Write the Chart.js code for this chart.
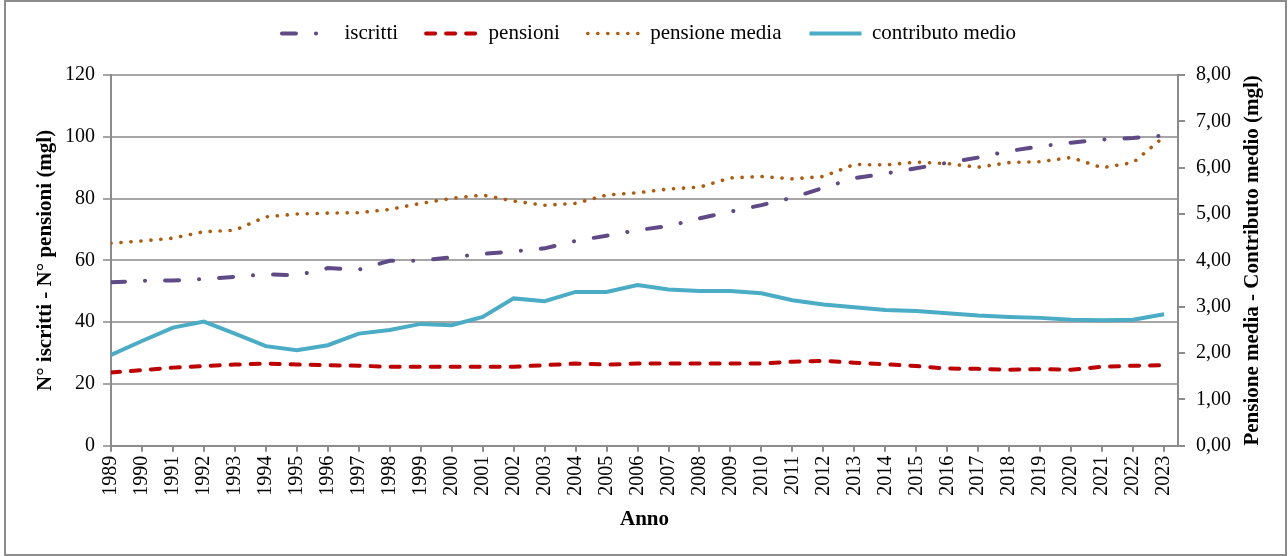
<!DOCTYPE html>
<html>
<head>
<meta charset="utf-8">
<script src="https://cdn.jsdelivr.net/npm/chart.js@4/dist/chart.umd.min.js"></script>
<style>
  html, body { margin: 0; padding: 0; background: #fff; }
  #wrap { position: relative; width: 1288px; height: 556px; }
</style>
</head>
<body>
<div id="wrap"><canvas id="chart" width="1288" height="556"></canvas></div>
<script>
const anni = [1989, 1990, 1991, 1992, 1993, 1994, 1995, 1996, 1997, 1998, 1999, 2000,
  2001, 2002, 2003, 2004, 2005, 2006, 2007, 2008, 2009, 2010, 2011, 2012,
  2013, 2014, 2015, 2016, 2017, 2018, 2019, 2020, 2021, 2022, 2023];

// asse sinistro (migliaia)
const iscritti = [52.9, 53.4, 53.5, 54.0, 54.7, 55.5, 55.2, 57.5, 57.0, 59.9, 59.9, 61.0,
  62.1, 62.9, 63.9, 66.3, 68.0, 69.8, 71.1, 73.6, 75.8, 77.9, 80.3, 83.5,
  86.6, 88.1, 89.8, 91.6, 93.3, 95.4, 96.9, 98.1, 99.1, 99.6, 100.4];
const pensioni = [23.7, 24.5, 25.3, 25.8, 26.3, 26.6, 26.3, 26.1, 25.9, 25.6, 25.6, 25.6,
  25.6, 25.6, 26.1, 26.6, 26.3, 26.6, 26.6, 26.6, 26.6, 26.6, 27.2, 27.5,
  26.9, 26.4, 25.8, 25.0, 24.9, 24.6, 24.8, 24.6, 25.6, 25.9, 26.1];

// asse destro (migliaia di euro)
const pensioneMedia = [4.37, 4.42, 4.48, 4.62, 4.65, 4.94, 5.00, 5.02, 5.03, 5.10, 5.23, 5.34,
  5.41, 5.28, 5.19, 5.23, 5.41, 5.46, 5.54, 5.58, 5.78, 5.81, 5.76, 5.81,
  6.07, 6.06, 6.12, 6.09, 6.01, 6.11, 6.13, 6.22, 6.00, 6.11, 6.67];
const contributoMedio = [1.96, 2.26, 2.55, 2.68, 2.42, 2.15, 2.06, 2.17, 2.42, 2.50, 2.63, 2.60,
  2.78, 3.18, 3.12, 3.32, 3.32, 3.47, 3.37, 3.34, 3.34, 3.29, 3.14, 3.05,
  2.99, 2.93, 2.91, 2.86, 2.81, 2.78, 2.76, 2.72, 2.71, 2.72, 2.84];

const font = 'Liberation Serif';
const gray = '#8c8c8c';
const rightTitle = 'Pensione media - Contributo medio (mgl)';

const punti = vals => anni.map((a, i) => ({ x: a, y: vals[i] }));

// sfondo bianco + cornice grigia
const frame = {
  id: 'frame',
  beforeDraw(chart) {
    const ctx = chart.ctx;
    ctx.save();
    ctx.fillStyle = '#fff';
    ctx.fillRect(0, 0, chart.width, chart.height);
    ctx.strokeStyle = gray;
    ctx.lineWidth = 2;
    ctx.strokeRect(5, 1, chart.width - 7, chart.height - 2);
    ctx.restore();
  }
};

// spazio extra sotto la legenda
const legendSpace = {
  id: 'legendSpace',
  beforeInit(chart) {
    const fit = chart.legend.fit;
    chart.legend.fit = function() {
      fit.bind(chart.legend)();
      this.height += 21;
    };
  }
};

// titolo asse destro letto dal basso verso l'alto
const rightAxisTitle = {
  id: 'rightAxisTitle',
  afterDraw(chart) {
    const s = chart.scales.y1;
    const ctx = chart.ctx;
    ctx.save();
    ctx.font = 'bold 21px "' + font + '"';
    ctx.fillStyle = '#000';
    ctx.textAlign = 'center';
    ctx.textBaseline = 'middle';
    ctx.translate(s.right - 14, (s.top + s.bottom) / 2);
    ctx.rotate(-Math.PI / 2);
    ctx.fillText(rightTitle, 0, 0);
    ctx.restore();
  }
};

new Chart(document.getElementById('chart'), {
  type: 'line',
  data: {
    datasets: [
      { label: 'iscritti', data: punti(iscritti), yAxisID: 'y', borderColor: '#5f4a87', backgroundColor: '#5f4a87',
        borderWidth: 4, borderDash: [14, 20, 0.1, 20], borderCapStyle: 'round' },
      { label: 'pensioni', data: punti(pensioni), yAxisID: 'y', borderColor: '#c00000', backgroundColor: '#c00000',
        borderWidth: 4, borderDash: [9, 11], borderCapStyle: 'round' },
      { label: 'pensione media', data: punti(pensioneMedia), yAxisID: 'y1', borderColor: '#b05a0c', backgroundColor: '#b05a0c',
        borderWidth: 3.6, borderDash: [0.1, 9.9], borderCapStyle: 'round' },
      { label: 'contributo medio', data: punti(contributoMedio), yAxisID: 'y1', borderColor: '#4bacc6', backgroundColor: '#4bacc6',
        borderWidth: 4 }
    ]
  },
  options: {
    responsive: false,
    animation: false,
    devicePixelRatio: 1,
    layout: { padding: { top: -5, left: 31, right: 21, bottom: 24 } },
    elements: { point: { radius: 0 }, line: { tension: 0 } },
    plugins: {
      tooltip: { enabled: false },
      legend: {
        position: 'top',
        labels: {
          usePointStyle: true,
          pointStyle: 'line',
          pointStyleWidth: 52,
          boxWidth: 52,
          boxHeight: 16,
          padding: 28,
          color: '#000',
          font: { family: font, size: 21 },
          generateLabels(chart) {
            const items = Chart.defaults.plugins.legend.labels.generateLabels(chart);
            items.forEach(it => {
              const ds = chart.data.datasets[it.datasetIndex];
              it.lineDash = ds.borderDash || [];
              it.lineWidth = ds.borderWidth;
              it.lineCap = ds.borderCapStyle || 'butt';
              it.strokeStyle = ds.borderColor;
            });
            return items;
          }
        }
      }
    },
    scales: {
      x: {
        type: 'linear',
        min: 1989,
        max: 2023.45,
        grid: { drawOnChartArea: false, color: gray, lineWidth: 2, tickLength: 6 },
        border: { color: gray, width: 2 },
        ticks: { stepSize: 1, includeBounds: false, minRotation: 90, maxRotation: 90, autoSkip: false,
          color: '#000', padding: 4, font: { family: font, size: 20 },
          callback: v => String(v) },
        title: { display: true, text: 'Anno', color: '#000', padding: { top: 7, bottom: 0 },
          font: { family: font, size: 21, weight: 'bold' } }
      },
      y: {
        position: 'left',
        min: 0, max: 120,
        ticks: { stepSize: 20, color: '#000', padding: 8, font: { family: font, size: 20 } },
        grid: { color: '#a6a6a6', lineWidth: 2, tickLength: 8 },
        border: { color: gray, width: 2 },
        title: { display: true, text: 'N° iscritti - N° pensioni (mgl)', color: '#000', padding: { top: 4, bottom: 1 },
          font: { family: font, size: 21, weight: 'bold', lineHeight: 1 } }
      },
      y1: {
        position: 'right',
        min: 0, max: 8,
        ticks: { stepSize: 1, color: '#000', padding: 11, font: { family: font, size: 20 },
          callback: v => v.toFixed(2).replace('.', ',') },
        grid: { drawOnChartArea: false, color: gray, lineWidth: 2, tickLength: 7 },
        border: { color: gray, width: 2 },
        title: { display: true, text: rightTitle, color: 'transparent', padding: 2,
          font: { family: font, size: 21, weight: 'bold', lineHeight: 1 } }
      }
    }
  },
  plugins: [frame, legendSpace, rightAxisTitle]
});
</script>
</body>
</html>
